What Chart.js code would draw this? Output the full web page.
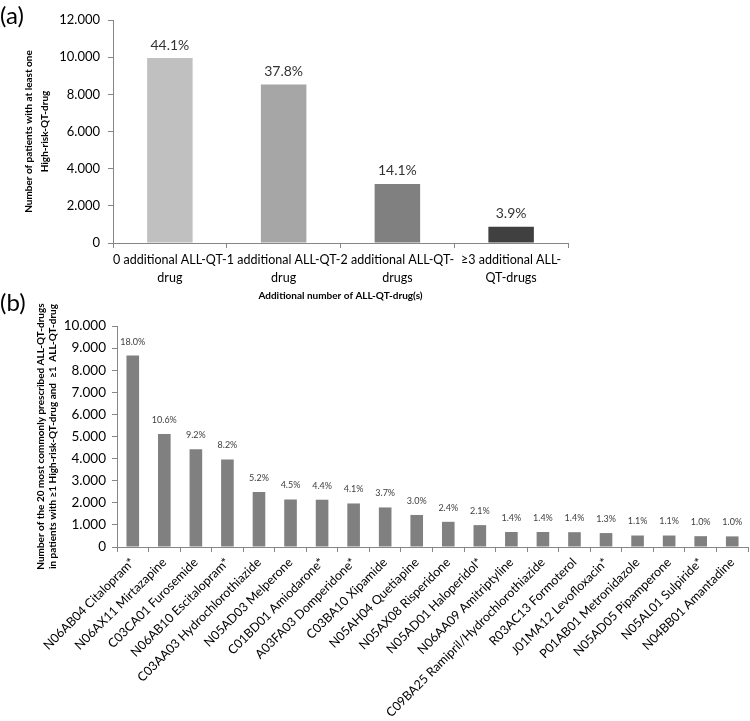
<!DOCTYPE html>
<html>
<head>
<meta charset="utf-8">
<script src="https://cdn.jsdelivr.net/npm/chart.js@4.4.1/dist/chart.umd.min.js"></script>
<style>
  body { margin: 0; background: #fff; }
  #wrap { position: relative; width: 750px; height: 721px; font-family: Lato, sans-serif; }
  canvas { position: absolute; left: 0; }
  .tag { position: absolute; left: 0; font-size: 24px; color: #000; }
</style>
</head>
<body>
<div id="wrap">
  <canvas id="chart-a" width="750" height="305" style="top:0"></canvas>
  <canvas id="chart-b" width="750" height="421" style="top:300px"></canvas>
  <div class="tag" style="top:0">(a)</div>
  <div class="tag" style="top:287px">(b)</div>
</div>
<script>
// panel (a)
var catsA = [["0 additional ALL-QT-", "drug"], ["1 additional ALL-QT-", "drug"], ["2 additional ALL-QT-", "drugs"], ["\u22653 additional ALL-", "QT-drugs"]];
var valsA = [9950, 8530, 3180, 880];
var pctA = ["44.1%", "37.8%", "14.1%", "3.9%"];
var colorsA = ["#c0c0c0", "#a6a6a6", "#808080", "#404040"];

// panel (b)
var drugsB = ["N06AB04 Citalopram*", "N06AX11 Mirtazapine", "C03CA01 Furosemide", "N06AB10 Escitalopram*",
    "C03AA03 Hydrochlorothiazide", "N05AD03 Melperone", "C01BD01 Amiodarone*", "A03FA03 Domperidone*",
    "C03BA10 Xipamide", "N05AH04 Quetiapine", "N05AX08 Risperidone", "N05AD01 Haloperidol*",
    "N06AA09 Amitriptyline", "C09BA25 Ramipril/Hydrochlorothiazide", "R03AC13 Formoterol", "J01MA12 Levofloxacin*",
    "P01AB01 Metronidazole", "N05AD05 Pipamperone", "N05AL01 Sulpiride*", "N04BB01 Amantadine"];
var valsB = [8660, 5110, 4420, 3960, 2490, 2150, 2140, 1970, 1790, 1450, 1140, 990, 680, 680, 670, 630, 520, 520, 490, 480];
var pctB = ["18.0%", "10.6%", "9.2%", "8.2%", "5.2%", "4.5%", "4.4%", "4.1%", "3.7%", "3.0%", "2.4%", "2.1%",
    "1.4%", "1.4%", "1.4%", "1.3%", "1.1%", "1.1%", "1.0%", "1.0%"];

var axisColor = "#868686";

function dots(v) {
    return String(v).replace(/\B(?=(\d{3})+(?!\d))/g, ".");
}

// draws the percentage text above each bar
function pctPlugin(labels, font, color, gap) {
    return {
        id: "pct",
        afterDatasetsDraw: function (chart) {
            var ctx = chart.ctx;
            ctx.save();
            ctx.font = font;
            ctx.fillStyle = color;
            ctx.textAlign = "center";
            ctx.textBaseline = "middle";
            chart.getDatasetMeta(0).data.forEach(function (bar, i) {
                ctx.fillText(labels[i], bar.x, bar.y - gap);
            });
            ctx.restore();
        }
    };
}

new Chart(document.getElementById("chart-a"), {
    type: "bar",
    data: {
        labels: catsA,
        datasets: [{
            data: valsA,
            backgroundColor: colorsA,
            barPercentage: 0.4,
            categoryPercentage: 1
        }]
    },
    plugins: [pctPlugin(pctA, "14px Lato", "#333", 13)],
    options: {
        responsive: false,
        animation: false,
        events: [],
        layout: { padding: { left: 0, right: 182, top: 20, bottom: 0 } },
        plugins: { legend: { display: false }, tooltip: { enabled: false } },
        scales: {
            x: {
                grid: { drawOnChartArea: false, tickLength: 5, color: axisColor },
                border: { color: axisColor },
                ticks: { color: "#000", font: { family: "Lato", size: 12.5, lineHeight: 1.45 }, padding: 3, autoSkip: false, maxRotation: 0 },
                title: { display: true, text: "Additional number of ALL-QT-drug(s)", color: "#000",
                    font: { family: "Lato", size: 10, weight: "bold", lineHeight: 1.2 }, padding: { top: 0, bottom: 3 } },
                afterFit: function (s) { s.height = 62; }
            },
            y: {
                min: 0, max: 12000,
                grid: { drawOnChartArea: false, tickLength: 5, color: axisColor },
                border: { color: axisColor },
                ticks: { stepSize: 2000, color: "#000", font: { family: "Lato", size: 13 }, padding: 8, callback: dots },
                title: { display: true, text: ["Number of patients with at least one", "High-risk-QT-drug"], color: "#000",
                    font: { family: "Lato", size: 10, weight: "bold", lineHeight: 1.6 }, padding: { top: 21, bottom: 0 } },
                afterFit: function (s) { s.width = 113; }
            }
        }
    }
});

new Chart(document.getElementById("chart-b"), {
    type: "bar",
    data: {
        labels: drugsB,
        datasets: [{
            data: valsB,
            backgroundColor: "#808080",
            barPercentage: 0.4,
            categoryPercentage: 1
        }]
    },
    plugins: [pctPlugin(pctB, "9px Lato", "#404040", 14)],
    options: {
        responsive: false,
        animation: false,
        events: [],
        layout: { padding: { left: 0, right: 2, top: 26, bottom: 0 } },
        plugins: { legend: { display: false }, tooltip: { enabled: false } },
        scales: {
            x: {
                grid: { drawOnChartArea: false, tickLength: 5, color: axisColor },
                border: { color: axisColor },
                ticks: { color: "#000", font: { family: "Lato", size: 12.5 }, padding: 3, autoSkip: false, minRotation: 45, maxRotation: 45 },
                afterFit: function (s) { s.height = 174; }
            },
            y: {
                min: 0, max: 10000,
                grid: { drawOnChartArea: false, tickLength: 5, color: axisColor },
                border: { color: axisColor },
                ticks: { stepSize: 1000, color: "#000", font: { family: "Lato", size: 13.5 }, padding: 6, callback: dots },
                title: { display: true, text: ["Number of the 20 most commonly prescribed ALL-QT-drugs", "in patients with \u22651 High-risk-QT-drug and  \u22651  ALL-QT-drug"], color: "#000",
                    font: { family: "Lato", size: 10, weight: "bold", lineHeight: 1.2 }, padding: { top: 35, bottom: 0 } },
                afterFit: function (s) { s.width = 117; }
            }
        }
    }
});
</script>
</body>
</html>
